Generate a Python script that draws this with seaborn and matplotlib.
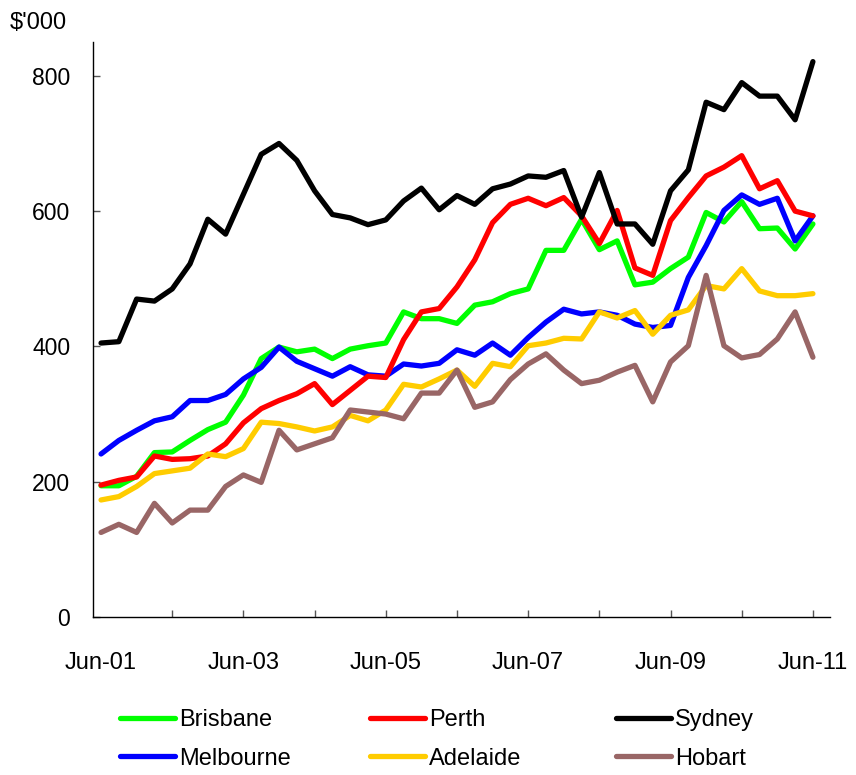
import numpy as np
import pandas as pd
import matplotlib
matplotlib.use("Agg")
import matplotlib.pyplot as plt
from matplotlib.lines import Line2D
import seaborn as sns

# ---- data (quarterly, Jun-01 .. Jun-11), $'000 ----
cities = ["Brisbane", "Melbourne", "Perth", "Adelaide", "Sydney", "Hobart"]
brisbane = [194, 194, 208, 243, 244, 261, 277, 288, 328, 382, 399, 392, 396, 382, 396, 401, 405, 451, 441, 441,
            434, 461, 466, 478, 485, 542, 542, 588, 543, 556, 491, 495, 515, 532, 598, 584, 614, 574, 575, 544, 581]
melbourne = [241, 261, 276, 290, 296, 320, 320, 329, 352, 369, 399, 378, 367, 356, 370, 358, 356, 374, 371, 375,
             395, 387, 405, 387, 413, 436, 455, 448, 451, 446, 433, 428, 431, 502, 549, 601, 624, 610, 619, 556, 593]
perth = [195, 202, 207, 238, 233, 234, 238, 256, 287, 308, 320, 330, 345, 314, 335, 356, 354, 410, 451, 456,
         488, 528, 583, 610, 619, 608, 620, 593, 552, 601, 516, 505, 586, 620, 652, 665, 682, 633, 645, 600, 593]
adelaide = [173, 178, 193, 212, 216, 220, 241, 237, 249, 288, 286, 281, 275, 281, 298, 290, 306, 344, 340, 352,
            365, 341, 375, 370, 401, 405, 412, 411, 451, 442, 453, 418, 446, 454, 490, 485, 515, 482, 475, 475, 478]
sydney = [405, 407, 470, 467, 485, 522, 588, 566, 625, 684, 700, 675, 630, 595, 590, 580, 587, 615, 634, 602,
          623, 610, 633, 640, 652, 650, 660, 591, 657, 581, 581, 551, 630, 661, 761, 750, 790, 770, 770, 735, 821]
hobart = [125, 137, 125, 168, 139, 158, 158, 193, 210, 199, 276, 247, 256, 265, 306, 303, 300, 293, 331, 331,
          365, 310, 318, 351, 374, 389, 365, 345, 350, 362, 372, 318, 377, 401, 505, 401, 383, 388, 411, 451, 384]
year_labels = ["Jun-01", "Jun-03", "Jun-05", "Jun-07", "Jun-09", "Jun-11"]
y_ticks = [0, 200, 400, 600, 800]

colors = {"Brisbane": "#00FF00", "Melbourne": "#0000FF", "Perth": "#FF0000",
          "Adelaide": "#FFCC00", "Sydney": "#000000", "Hobart": "#996666"}
series = {"Brisbane": brisbane, "Melbourne": melbourne, "Perth": perth,
          "Adelaide": adelaide, "Sydney": sydney, "Hobart": hobart}

rows = []
for c in cities:
    for i, v in enumerate(series[c]):
        rows.append({"q": i, "value": v, "city": c})
df = pd.DataFrame(rows)

sns.set_theme(style="white")
plt.rcParams["font.family"] = ["Liberation Sans", "DejaVu Sans"]
plt.rcParams["text.color"] = "black"
plt.rcParams["xtick.labelcolor"] = "black"
plt.rcParams["ytick.labelcolor"] = "black"

fig = plt.figure(figsize=(8.56, 7.75), dpi=100)
ax = fig.add_axes([92.5 / 856, 1 - 617 / 775, (830 - 92.5) / 856, (617 - 42) / 775])

sns.lineplot(data=df, x="q", y="value", hue="city", hue_order=cities, palette=colors,
             linewidth=3.8, legend=False, ax=ax, solid_capstyle="round", solid_joinstyle="round")

n = len(sydney)
ax.set_xlim(-0.48, n - 1 + 0.96)
ax.set_ylim(0, 850)
ax.set_xlabel("")
ax.set_ylabel("")
for s in ["top", "right"]:
    ax.spines[s].set_visible(False)
for s in ["left", "bottom"]:
    ax.spines[s].set_color("black")
    ax.spines[s].set_linewidth(1.0)

ax.set_yticks(y_ticks)
ax.set_yticklabels([str(v) for v in y_ticks], fontsize=16.5)
ax.tick_params(axis="y", direction="in", length=5, width=1, color="#555555", pad=16, left=True,
               labelcolor="black")

year_pos = list(range(4, n, 4))
lab = {8 * k: l for k, l in enumerate(year_labels)}
ax.set_xticks(year_pos)
ax.set_xticklabels([lab.get(p, "") for p in year_pos], fontsize=17)
ax.set_xticks([0], labels=[year_labels[0]], minor=True)
ax.tick_params(axis="x", which="major", direction="in", length=5, width=1, color="#555555", pad=25,
               bottom=True, labelcolor="black")
ax.tick_params(axis="x", which="minor", length=0, pad=25, labelsize=17, bottom=True, labelcolor="black")

fig.text(10 / 856, 1 - 23 / 775, "$'000", fontsize=17, ha="left", va="center", color="black")

legend_cols = [["Brisbane", "Melbourne"], ["Perth", "Adelaide"], ["Sydney", "Hobart"]]
xs = [120 / 856, 370 / 856, 616 / 856]
for col, x0 in zip(legend_cols, xs):
    hs = [Line2D([0], [0], color=colors[c], lw=3.8, solid_capstyle="round") for c in col]
    fig.legend(hs, col, loc="upper left", bbox_to_anchor=(x0, 1 - 709 / 775), frameon=False,
               fontsize=17, handlelength=2.35, handletextpad=0.15, labelspacing=0.7,
               borderpad=0, borderaxespad=0, labelcolor="black")

fig.savefig("out.png", dpi=100)
